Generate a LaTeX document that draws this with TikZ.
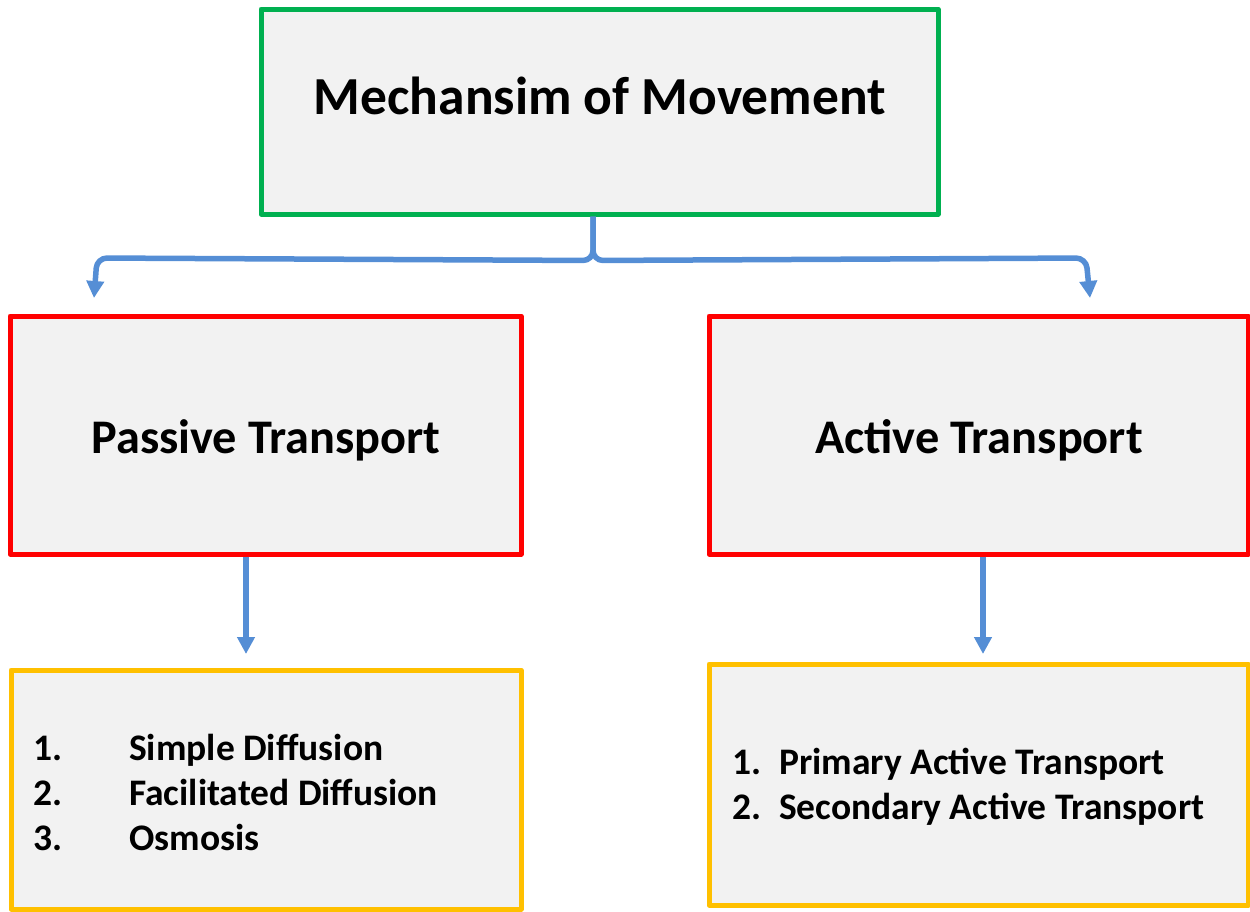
\documentclass[tikz,border=0pt]{standalone}
\usepackage{fontspec}
\setmainfont{Carlito}
\usetikzlibrary{arrows.meta}
\definecolor{boxfill}{HTML}{F2F2F2}
\definecolor{grn}{HTML}{00B050}
\definecolor{rd}{HTML}{FF0000}
\definecolor{ylw}{HTML}{FFC000}
\definecolor{conn}{HTML}{558ED5}
\begin{document}
\begin{tikzpicture}[x=1pt,y=-1pt,
  box/.style={draw, fill=boxfill, line width=5pt, line join=round, inner sep=0pt},
  titletext/.style={font=\fontsize{53.5}{60}\selectfont\bfseries},
  headtext/.style={font=\fontsize{48.3}{55}\selectfont\bfseries},
  listtext/.style={font=\fontsize{37.5}{45}\selectfont\bfseries, align=left, anchor=west, inner sep=0pt},
  flow/.style={draw=conn, line width=5.5pt, rounded corners=10pt, -{Triangle[length=17pt,width=17pt]}}]
\useasboundingbox (0,0) rectangle (1250,911);
% boxes
\node[box, draw=grn, minimum width=677pt, minimum height=205pt] (top) at (599.5,111.5) {};
\node[box, draw=rd, minimum width=511pt, minimum height=238pt] (passive) at (265.5,435) {};
\node[box, draw=rd, minimum width=539pt, minimum height=238pt] (active) at (978.5,435) {};
\node[box, draw=ylw, minimum width=510pt, minimum height=239pt] (plist) at (266,789.5) {};
\node[box, draw=ylw, minimum width=539pt, minimum height=241pt] (alist) at (978.5,784.5) {};
% texts
\node[titletext] (ttl) at (600,96) {Mechansim of Movement};
\node[headtext] (ptxt) at (266,440) {Passive Transport};
\node[headtext] (atxt) at (979,440) {Active Transport};
\node[listtext] (pitems) at (33,792) {\makebox[96pt][l]{1.}Simple Diffusion\\\makebox[96pt][l]{2.}Facilitated Diffusion\\\makebox[96pt][l]{3.}Osmosis};
\node[listtext] (aitems) at (732,786.5) {\makebox[47pt][l]{1.}Primary Active Transport\\\makebox[47pt][l]{2.}Secondary Active Transport};
% connector end points
\coordinate (pend) at (94,298);
\coordinate (aend) at (1090,298);
\coordinate (plend) at (246,654);
\coordinate (alend) at (983,654);
% connectors
\draw[flow] ([xshift=-6.5pt]top.south) -- ++(0,44) -- (97,258) -- (pend);
\draw[flow] ([xshift=-6.5pt]top.south) -- ++(0,44) -- (1086,258) -- (aend);
\draw[flow] ([xshift=-19.5pt]passive.south) -- (plend);
\draw[flow] ([xshift=4.5pt]active.south) -- (alend);
\end{tikzpicture}
\end{document}
